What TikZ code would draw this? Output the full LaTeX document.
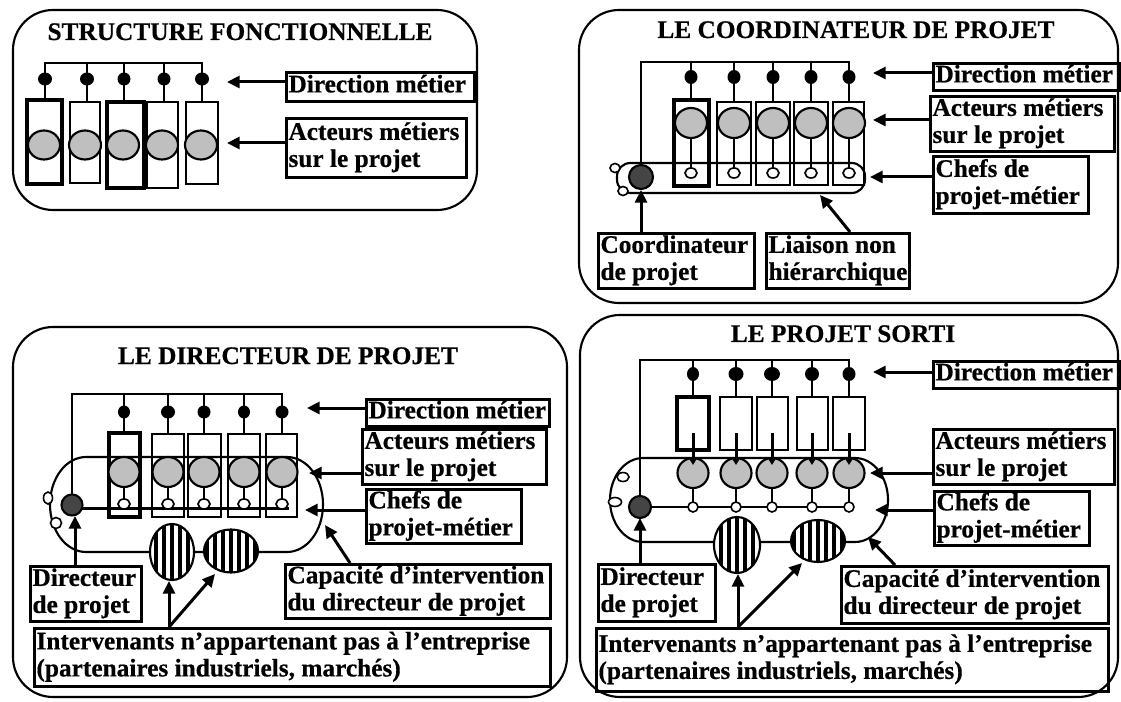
\documentclass[tikz,border=0pt]{standalone}
\usepackage{fontspec}
\setmainfont{Liberation Serif}[FakeBold=0.6]
\usetikzlibrary{arrows.meta}
\definecolor{actorgray}{gray}{0.75}
\definecolor{dirgray}{gray}{0.27}
\newcommand{\lbfont}{\fontsize{19pt}{20.25pt}\selectfont\bfseries}
\newcommand{\labbox}[6]{%
  \pgfmathsetmacro{\lbw}{(#4-#2)*0.75-3}%
  \pgfmathsetmacro{\lbh}{(#5-#3)*0.75}%
  \node[lbl, minimum height=\lbh pt] (#1) at (#2,#3) {\makebox[\lbw pt][l]{\begin{tabular}{@{}l@{}}#6\end{tabular}}};}
\newcommand{\stripedoval}[4]{%
  \fill[white] (#1,#2) ellipse[x radius=#3, y radius=#4];
  \begin{scope}
    \clip (#1,#2) ellipse[x radius=#3, y radius=#4];
    \foreach \k in {-4,...,4} \fill ({#1+\k*8-2},{#2-#4}) rectangle ++(4,{2*#4});
  \end{scope}
  \draw[line width=1.6pt] (#1,#2) ellipse[x radius=#3, y radius=#4];}
\begin{document}
\begin{tikzpicture}[x=0.75pt,y=-0.75pt,
  panel/.style={draw, line width=1.6pt, rounded corners=30pt},
  wire/.style={line width=1.6pt},
  cbox/.style={draw, line width=1.6pt},
  cboxb/.style={draw, line width=2.4pt},
  actor/.style={draw, line width=1.6pt, fill=actorgray},
  small/.style={draw, line width=1.2pt, fill=white},
  arr/.style={line width=2.25pt, -{Triangle[length=9.5pt,width=9pt]}},
  arrs/.style={line width=2.25pt, -{Triangle[length=6pt,width=7pt]}},
  lbl/.style={draw, line width=2.25pt, inner xsep=1.5pt, inner ysep=0pt, anchor=north west, font=\lbfont},
  ttl/.style={font=\lbfont, anchor=base, inner sep=0pt}]
\useasboundingbox (0,0) rectangle (1121,702);

% ---------------- Panel 1 ----------------
\draw[panel] (13,10) rectangle (477,210);
\node[ttl] (t1) at (240,40) {STRUCTURE FONCTIONNELLE};
\draw[wire] (45,100) -- (45,63) -- (202,63) -- (202,102);
\foreach \x in {87,124,164} \draw[wire] (\x,63) -- (\x,102);
\foreach \x/\r in {45/7,87/7,124/6.5,164/6.5,202/7} \fill (\x,79) ellipse[x radius=\r, y radius=6.5];
\draw[cboxb] (27,100) rectangle (62,184);
\draw[cbox] (70,102) rectangle (100,183);
\draw[cboxb] (107,102) rectangle (144,188);
\draw[cbox] (147,102) rectangle (178,188);
\draw[cbox] (186,102) rectangle (218,184);
\foreach \x in {44,85,123,162,201} \draw[actor] (\x,145) ellipse[x radius=16, y radius=14.5];
\labbox{p1dir}{285}{71}{473}{100}{Direction métier}
\labbox{p1act}{285}{117}{465}{176}{Acteurs métiers\\sur le projet}
\coordinate (p1dirtip) at (227,82);
\coordinate (p1acttip) at (227,143);
\draw[arr] (p1dir.west |- p1dirtip) -- (p1dirtip);
\draw[arr] (p1act.west |- p1acttip) -- (p1acttip);

% ---------------- Panel 2 ----------------
\draw[panel] (579,10) rectangle (1118,303);
\node[ttl] (t2) at (856,38) {LE COORDINATEUR DE PROJET};
\draw[wire, rounded corners=10pt] (617,163) rectangle (865,193);
\draw[wire] (641,177) -- (641,62) -- (849,62) -- (849,102);
\foreach \x in {691,734,773,811} \draw[wire] (\x,62) -- (\x,102);
\draw[cboxb] (674,100) rectangle (709,186);
\draw[cbox] (717,102) rectangle (751,185);
\draw[cbox] (756,102) rectangle (790,185);
\draw[cbox] (794,102) rectangle (828,185);
\draw[cbox] (833,102) rectangle (864,185);
\foreach \x in {691,734,773,811,849} {
  \fill (\x,77) ellipse[x radius=6.5, y radius=7];
  \draw[wire] (\x,123) -- (\x,173);
  \draw[actor] (\x,123) ellipse[x radius=16, y radius=15];
  \draw[small] (\x,173) ellipse[x radius=6, y radius=5];
}
\draw[small] (615,168) ellipse[x radius=5, y radius=4.5];
\draw[small] (623,191) ellipse[x radius=5, y radius=4.5];
\draw[line width=1.6pt, fill=dirgray] (641,177) circle[radius=12];
\labbox{p2dir}{932}{62}{1118}{88}{Direction métier}
\labbox{p2act}{929}{95}{1113}{150}{Acteurs métiers\\sur le projet}
\labbox{p2chef}{932}{155}{1087}{212}{Chefs de\\projet-métier}
\labbox{p2coord}{597}{232}{753}{287}{Coordinateur\\de projet}
\labbox{p2liai}{765}{232}{908}{287}{Liaison non\\hiérarchique}
\coordinate (p2dirtip) at (873,73);
\coordinate (p2acttip) at (873,120);
\coordinate (p2cheftip) at (870,177);
\coordinate (p2coordtip) at (641,190);
\coordinate (p2coordfrom) at (641,232);
\coordinate (p2liaitip) at (820,195);
\coordinate (p2liaifrom) at (850,232);
\draw[arr] (p2dir.west |- p2dirtip) -- (p2dirtip);
\draw[arr] (p2act.west |- p2acttip) -- (p2acttip);
\draw[arr] (p2chef.west |- p2cheftip) -- (p2cheftip);
\draw[arr] (p2coordfrom) -- (p2coordtip);
\draw[arr] (p2liaifrom) -- (p2liaitip);

% ---------------- Panel 3 ----------------
\draw[panel] (13,327) rectangle (567,697);
\node[ttl] (t3) at (288,364) {LE DIRECTEUR DE PROJET};
\draw[wire] (86,457) -- (287,457) arc[start angle=-90, end angle=90, x radius=36, y radius=47.5]
  -- (86,552) arc[start angle=90, end angle=270, x radius=36, y radius=47.5] -- cycle;
\draw[wire] (72,505) -- (72,394) -- (282,394) -- (282,434);
\foreach \x in {124,168,204,244} \draw[wire] (\x,394) -- (\x,434);
\foreach \x/\r in {124/6,168/7,204/6.5,244/6,282/6.5} \fill (\x,412) ellipse[x radius=\r, y radius=6.5];
\draw[cboxb] (109,433) rectangle (140,517);
\draw[cbox] (152,434) rectangle (184,517);
\draw[cbox] (188,434) rectangle (221,517);
\draw[cbox] (228,434) rectangle (260,517);
\draw[cbox] (266,434) rectangle (297,517);
\draw[line width=2.25pt] (72,508) -- (289,508);
\foreach \x in {124,168,204,244,282} {
  \draw[wire] (\x,472) -- (\x,504);
  \draw[actor] (\x,472) ellipse[x radius=15.5, y radius=15];
  \draw[small] (\x,504) ellipse[x radius=6, y radius=5];
}
\draw[small] (48,498) ellipse[x radius=4.5, y radius=6];
\draw[small] (56,523) ellipse[x radius=5.5, y radius=5.5];
\draw[line width=1.6pt, fill=dirgray] (72,505) circle[radius=10.5];
\stripedoval{172}{552}{22}{28}
\stripedoval{231}{551}{27}{21.5}
\labbox{p3dir}{365}{398}{548}{421}{Direction métier}
\labbox{p3act}{361}{428}{545}{483}{Acteurs métiers\\sur le projet}
\labbox{p3chef}{365}{488}{520}{540}{Chefs de\\projet-métier}
\labbox{p3cap}{284}{563}{549}{617}{Capacité d’intervention\\du directeur de projet}
\labbox{p3dirp}{29}{565}{140}{620}{Directeur\\de projet}
\labbox{p3int}{33}{627}{549}{685}{Intervenants n’appartenant pas à l’entreprise\\(partenaires industriels, marchés)}
\coordinate (p3dirtip) at (307,408);
\coordinate (p3acttip) at (309,473);
\coordinate (p3cheftip) at (305,510);
\coordinate (p3capfrom) at (350,563);
\coordinate (p3captip) at (325,525);
\coordinate (p3dirpfrom) at (75,565);
\coordinate (p3dirptip) at (75,516);
\coordinate (p3intfrom) at (169,627);
\coordinate (p3inttipa) at (169,581);
\coordinate (p3inttipb) at (215,574);
\draw[arr] (p3dir.west |- p3dirtip) -- (p3dirtip);
\draw[arr] (p3act.west |- p3acttip) -- (p3acttip);
\draw[arr] (p3chef.west |- p3cheftip) -- (p3cheftip);
\draw[arr] (p3capfrom) -- (p3captip);
\draw[arr] (p3dirpfrom) -- (p3dirptip);
\draw[arr] (p3intfrom) -- (p3inttipa);
\draw[arr] (p3intfrom) -- (p3inttipb);

% ---------------- Panel 4 ----------------
\draw[panel] (580,315) rectangle (1118,697);
\node[ttl] (t4) at (843,342) {LE PROJET SORTI};
\draw[wire] (643,458) -- (855,458) arc[start angle=-90, end angle=90, x radius=33, y radius=42]
  -- (643,542) arc[start angle=90, end angle=270, x radius=33, y radius=42] -- cycle;
\draw[wire] (640,507) -- (640,360) -- (849,360) -- (849,397);
\foreach \x in {693,736,772,812} \draw[wire] (\x,360) -- (\x,397);
\foreach \x/\r in {693/6,736/7.5,772/8,812/7,849/6.5} \fill (\x,374) ellipse[x radius=\r, y radius=7];
\draw[cboxb] (677,397) rectangle (709,450);
\draw[cbox] (720,397) rectangle (752,450);
\draw[cbox] (757,397) rectangle (788,450);
\draw[cbox] (797,397) rectangle (828,450);
\draw[cbox] (833,397) rectangle (865,450);
\draw[wire] (640,507) -- (853,507);
\foreach \x in {693,736,772,812,849} {
  \draw[wire] (\x,473) -- (\x,502);
  \draw[actor] (\x,473) ellipse[x radius=15.5, y radius=15];
  \draw[small] (\x,507) circle[radius=5];
  \draw[arrs] (\x,433) -- (\x,465);
}
\draw[small] (623,477) ellipse[x radius=6, y radius=4.5];
\draw[small] (615,502) ellipse[x radius=6.5, y radius=4.5];
\draw[line width=1.6pt, fill=dirgray] (640,507) circle[radius=11];
\stripedoval{737}{545}{23}{28}
\stripedoval{818}{541}{27}{21}
\labbox{p4dir}{932}{360}{1118}{385}{Direction métier}
\labbox{p4act}{932}{428}{1113}{483}{Acteurs métiers\\sur le projet}
\labbox{p4chef}{933}{490}{1088}{542}{Chefs de\\projet-métier}
\labbox{p4cap}{840}{565}{1107}{622}{Capacité d’intervention\\du directeur de projet}
\labbox{p4dirp}{597}{563}{714}{620}{Directeur\\de projet}
\labbox{p4int}{595}{627}{1107}{690}{Intervenants n’appartenant pas à l’entreprise\\(partenaires industriels, marchés)}
\coordinate (p4dirtip) at (873,372);
\coordinate (p4acttip) at (870,473);
\coordinate (p4cheftip) at (875,510);
\coordinate (p4capfrom) at (895,565);
\coordinate (p4captip) at (868,537);
\coordinate (p4dirpfrom) at (640,563);
\coordinate (p4dirptip) at (640,518);
\coordinate (p4intfrom) at (738,627);
\coordinate (p4inttipa) at (738,574);
\coordinate (p4inttipb) at (802,563);
\draw[arr] (p4dir.west |- p4dirtip) -- (p4dirtip);
\draw[arr] (p4act.west |- p4acttip) -- (p4acttip);
\draw[arr] (p4chef.west |- p4cheftip) -- (p4cheftip);
\draw[arr] (p4capfrom) -- (p4captip);
\draw[arr] (p4dirpfrom) -- (p4dirptip);
\draw[arr] (p4intfrom) -- (p4inttipa);
\draw[arr] (p4intfrom) -- (p4inttipb);
\end{tikzpicture}
\end{document}
